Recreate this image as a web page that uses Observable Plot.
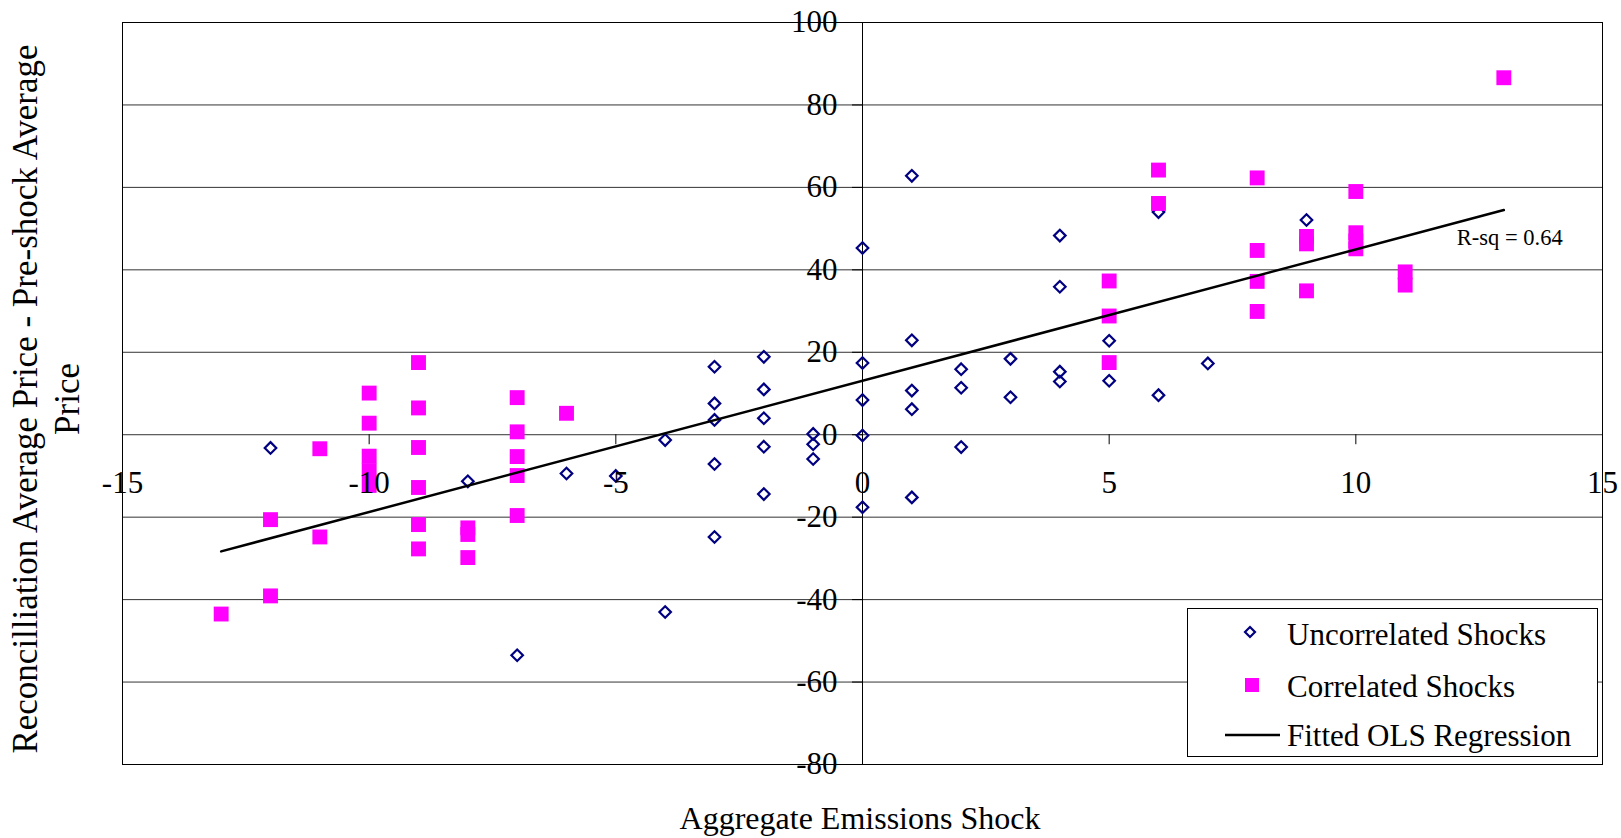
<!DOCTYPE html>
<html><head><meta charset="utf-8">
<script src="https://cdn.jsdelivr.net/npm/d3@7"></script>
<script src="https://cdn.jsdelivr.net/npm/@observablehq/plot@0.6"></script>
<style>
html,body{margin:0;padding:0;background:#fff;}
#chart{position:relative;width:1621px;height:838px;}
</style></head><body><div id="chart"></div>
<script>
// ---- data ----
const uncorrX = [-12, -8, -7, -6, -5, -4, -4, -3, -3, -3, -3, -3, -2, -2, -2, -2, -2, -1, -1, -1, 0, 0, 0, 0, 0, 1, 1, 1, 1, 1, 2, 2, 2, 3, 3, 4, 4, 4, 4, 5, 5, 6, 6, 7, 9];
const uncorrY = [-3.2, -11.3, -53.5, -9.4, -10, -1.3, -43, 16.5, 7.6, 3.6, -7.1, -24.8, 18.9, 11, 4, -2.9, -14.4, 0.2, -2.3, -5.9, 45.3, 17.4, 8.4, -0.2, -17.6, 62.8, 22.9, 10.7, 6.2, -15.2, 15.9, 11.4, -3, 18.4, 9.1, 48.3, 35.9, 15.3, 12.9, 22.8, 13.1, 54, 9.6, 17.3, 52.1];
const corrX = [-13, -12, -12, -11, -11, -10, -10, -10, -10, -10, -9, -9, -9, -9, -9, -9, -8, -8, -8, -7, -7, -7, -7, -7, -6, 5, 5, 5, 6, 6, 8, 8, 8, 8, 9, 9, 9, 10, 10, 10, 10, 11, 11, 13];
const corrY = [-43.5, -20.6, -39.1, -3.4, -24.8, 10.1, 2.8, -5.2, -8.7, -12.3, 17.5, 6.5, -3.1, -12.8, -21.8, -27.7, -22.6, -24.2, -29.8, 9, 0.7, -5.3, -9.9, -19.6, 5.2, 37.3, 28.8, 17.5, 64.2, 56.1, 62.3, 44.7, 37.2, 29.9, 48.1, 46.3, 34.9, 59, 49, 47, 45.1, 39.5, 36.3, 86.6];
const fitX = [-13, 13];
const fitY = [-28.3, 54.5];
const xTicks = [-15, -10, -5, 0, 5, 10, 15];
const yTicks = [-80, -60, -40, -20, 0, 20, 40, 60, 80, 100];
const rsqLabel = "R-sq = 0.64";
const seriesNames = ["Uncorrelated Shocks", "Correlated Shocks", "Fitted OLS Regression"];
const xTitle = "Aggregate Emissions Shock";
const yTitleLines = ["Reconcilliation Average Price - Pre-shock Average", "Price"];

// ---- build ----
const FONT = '"Liberation Serif","Times New Roman",serif';
const W = 1621, H = 838;
const uncorr = uncorrX.map((x, i) => ({x, y: uncorrY[i]}));
const corr = corrX.map((x, i) => ({x, y: corrY[i]}));
const fit = fitX.map((x, i) => ({x, y: fitY[i]}));

const plot = Plot.plot({
  width: W, height: H,
  marginLeft: 122, marginRight: 19, marginTop: 22, marginBottom: 74,
  x: {domain: [-15, 15], axis: null},
  y: {domain: [-80, 100], axis: null},
  style: {fontFamily: FONT, background: "#fff", color: "#000"},
  marks: [
    Plot.ruleY(yTicks, {y: d => d, stroke: "#333", strokeWidth: 1}),
    Plot.ruleX([0], {stroke: "#000", strokeWidth: 1}),
    Plot.ruleX(xTicks, {x: d => d, y1: 0, y2: 0, insetBottom: -10, stroke: "#000"}),
    Plot.ruleY(yTicks, {y: d => d, x1: 0, x2: 0, insetLeft: -10, stroke: "#000"}),
    Plot.dot(uncorr, {x: "x", y: "y", symbol: "diamond2", r: 5.2, stroke: "#000080", strokeWidth: 2.2, fill: "none"}),
    Plot.dot(corr, {x: "x", y: "y", symbol: "square", r: 8.4, fill: "#ff00ff", stroke: "none"}),
    Plot.line(fit, {x: "x", y: "y", stroke: "#000", strokeWidth: 2.5}),
    Plot.text(xTicks, {x: d => d, y: 0, text: d => String(d), dy: 48, fontSize: 31, fill: "#000"}),
    Plot.text(yTicks, {x: 0, y: d => d, text: d => String(d), dx: -25, textAnchor: "end", fontSize: 31, fill: "#000"}),
    Plot.text([rsqLabel], {x: fitX[1], y: fitY[1], text: d => d, textAnchor: "start", dx: -47, dy: 28, fontSize: 22.5, fill: "#000"}),
    Plot.frame({stroke: "#000", strokeWidth: 1})
  ]
});

const svg = d3.select(plot);
// axis titles
svg.append("text").attr("x", 860).attr("y", 829).attr("text-anchor", "middle")
  .attr("font-family", FONT).attr("font-size", 32).attr("fill", "#000").text(xTitle);
yTitleLines.forEach((t, i) => {
  svg.append("text").attr("transform", `translate(${i === 0 ? 37 : 79},399) rotate(-90)`)
    .attr("text-anchor", "middle").attr("font-family", FONT).attr("font-size", 35)
    .attr("fill", "#000").text(t);
});
// legend
const lg = svg.append("g").attr("font-family", FONT).attr("font-size", 31).attr("fill", "#000");
lg.append("rect").attr("x", 1187.5).attr("y", 608.5).attr("width", 410).attr("height", 148)
  .attr("fill", "#fff").attr("stroke", "#000");
lg.append("path").attr("d", "M0,-5L5,0L0,5L-5,0Z").attr("transform", "translate(1250,632)")
  .attr("fill", "none").attr("stroke", "#000080").attr("stroke-width", 2.2);
lg.append("rect").attr("x", 1245).attr("y", 678).attr("width", 14).attr("height", 14).attr("fill", "#ff00ff");
lg.append("line").attr("x1", 1225).attr("x2", 1280).attr("y1", 735).attr("y2", 735)
  .attr("stroke", "#000").attr("stroke-width", 2.5);
[645, 697, 746].forEach((yb, i) => {
  lg.append("text").attr("x", 1287).attr("y", yb).attr("text-anchor", "start").text(seriesNames[i]);
});

document.getElementById("chart").appendChild(plot);
</script>
</body></html>
